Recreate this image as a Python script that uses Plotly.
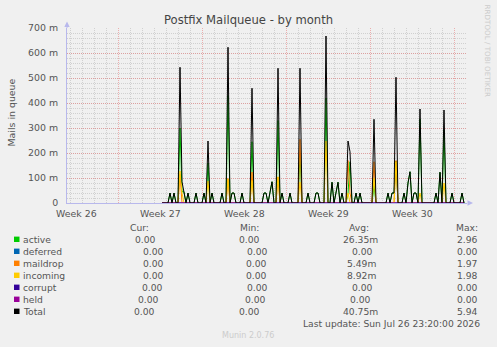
import plotly.graph_objects as go
import pandas as pd
import numpy as np

# ---------------- data ----------------
START = pd.Timestamp("2026-06-23 18:00")   # left edge of the time axis
SPAN_H = 800                               # hours shown
DATA_FROM_H = 190                          # first known sample (hours from START)
DATA_TO_H = 794                            # last sample
STEP_H = 4                                 # consolidation step (hours)

# non-zero samples (hours from START) and their values in milli-mails
spike_hours = [206, 214, 226, 230, 234, 242, 258, 274, 282, 290,
               310, 322, 330, 334, 350, 370, 394, 398, 406, 410,
               422, 430, 446, 466, 482, 498, 502, 518, 530, 538,
               542, 550, 562, 566, 578, 586, 614, 642, 650, 654,
               658, 674, 682, 686, 694, 698, 706, 738, 746, 754,
               770, 790]
active_m = [40, 40, 300, 45, 45, 40, 40, 40, 160, 40,
            40, 430, 40, 40, 40, 245, 40, 40, 40, 85,
            330, 40, 40, 200, 40, 40, 40, 420, 83, 40,
            83, 40, 38, 165, 40, 40, 70, 40, 40, 40,
            168, 40, 80, 125, 40, 40, 336, 40, 123, 292,
            40, 40]
maildrop_m = [0, 0, 115, 0, 0, 0, 0, 0, 0, 0,
              0, 98, 0, 0, 0, 124, 0, 0, 0, 0,
              104, 0, 0, 255, 0, 0, 0, 0, 0, 0,
              0, 0, 170, 40, 0, 0, 165, 0, 0, 0,
              170, 0, 0, 0, 0, 0, 0, 0, 0, 0,
              0, 0]
incoming_m = [0, 0, 128, 40, 0, 0, 0, 0, 88, 0,
              0, 95, 0, 0, 0, 90, 0, 0, 0, 0,
              105, 0, 0, 84, 0, 0, 0, 248, 0, 0,
              0, 0, 40, 0, 0, 0, 100, 0, 0, 0,
              165, 0, 0, 0, 0, 0, 40, 0, 0, 80,
              0, 0]

series_names = ["active", "deferred", "maildrop", "incoming", "corrupt", "held"]
series_colors = ["#00CC00", "#0066B3", "#FF8000", "#FFCC00", "#330099", "#990099"]
total_color = "#000000"

y_tickvals = [0, 0.1, 0.2, 0.3, 0.4, 0.5, 0.6, 0.7]
y_ticktext = ["0", "100 m", "200 m", "300 m", "400 m", "500 m", "600 m", "700 m"]
week_labels = ["Week 26", "Week 27", "Week 28", "Week 29", "Week 30"]
week_label_hours = [18, 186, 354, 522, 690]

legend_cur = ["0.00", "0.00", "0.00", "0.00", "0.00", "0.00", "0.00"]
legend_min = ["0.00", "0.00", "0.00", "0.00", "0.00", "0.00", "0.00"]
legend_avg = ["26.35m", "0.00", "5.49m", "8.92m", "0.00", "0.00", "40.75m"]
legend_max = ["2.96", "0.00", "1.97", "1.98", "0.00", "0.00", "5.94"]

# ---------------- series ----------------
hours = np.arange(DATA_FROM_H, DATA_TO_H + 1, STEP_H)
x = START + pd.to_timedelta(hours, unit="h")
vals = {n: np.zeros(len(hours)) for n in series_names}
idx = [(h - DATA_FROM_H) // STEP_H for h in spike_hours]
for i, a, m, inc in zip(idx, active_m, maildrop_m, incoming_m):
    vals["active"][i] = a / 1000
    vals["maildrop"][i] = m / 1000
    vals["incoming"][i] = inc / 1000
total = sum(vals[n] for n in series_names)

fig = go.Figure()
for n, c in zip(series_names, series_colors):
    fig.add_trace(go.Scatter(x=x, y=vals[n], mode="lines", name=n,
                             line=dict(color=c, width=1), showlegend=False))
fig.add_trace(go.Scatter(x=x, y=total, mode="lines", name="Total",
                         line=dict(color=total_color, width=1), showlegend=False))

# ---------------- layout helpers ----------------
W, H = 497, 347
PL, PR, PT, PB = 67, 467, 28, 203
def px(v):
    return (v - PL) / (PR - PL)
def py(v):
    return (PB - v) / (PB - PT)

FONT = "DejaVu Sans"
TXT = "#555555"
AXIS_C = "#B8B8EC"
MAJ = "rgba(230,120,120,0.55)"
MIN = "rgba(150,150,150,0.35)"
DASH = "1px,1px"

annotations = []
def text(s, x0, y0, xa="center", size=9.2, color=TXT, angle=0):
    annotations.append(dict(text=s, x=px(x0), y=py(y0), xref="paper", yref="paper",
                            xanchor=xa, yanchor="middle", showarrow=False,
                            textangle=angle, font=dict(family=FONT, size=size, color=color)))

text("Postfix Mailqueue - by month", 248, 20.5, size=11.6, color="#444444")
text("Mails in queue", 10.5, 113, size=9.4, angle=-90)
text("RRDTOOL / TOBI OETIKER", 487.5, 51, size=7.2, color="#CCCCCC", angle=90)

for lab, h in zip(week_labels, week_label_hours):
    annotations.append(dict(text=lab, x=START + pd.Timedelta(hours=h), y=0,
                            xref="x", yref="paper", xanchor="center", yanchor="top",
                            yshift=-3, showarrow=False,
                            font=dict(family=FONT, size=9.4, color=TXT)))

rows_y = [239.3, 251.3, 263.3, 275.3, 287.3, 299.3, 311.3]
cur_x = [145, 153, 153, 153.7, 152, 148.7, 144.7]
min_x = [249, 257.8, 256.3, 256.3, 257.8, 255.5, 249]
avg_x = [360, 362.5, 361.7, 361.7, 362.5, 360.8, 360]
text("Cur:", 139, 227.3)
text("Min:", 249, 227.3)
text("Avg:", 358.5, 227.3)
text("Max:", 466.7, 227.3)

shapes = []
labels = series_names + ["Total"]
colors = series_colors + [total_color]
for k, (lab, col) in enumerate(zip(labels, colors)):
    yy = rows_y[k]
    shapes.append(dict(type="rect", xref="paper", yref="paper",
                       x0=px(14), x1=px(19.5), y0=py(yy + 2.7), y1=py(yy - 2.7),
                       fillcolor=col, line=dict(width=0)))
    text(lab, 20.5, yy, xa="left")
    text(legend_cur[k], cur_x[k], yy)
    text(legend_min[k], min_x[k], yy)
    text(legend_avg[k], avg_x[k], yy)
    text(legend_max[k], 479.5, yy, xa="right")

text("Last update: Sun Jul 26 23:20:00 2026", 481.7, 323.3, xa="right")
text("Munin 2.0.76", 248.3, 335, size=8, color="#CCCCCC")

# axis arrows
shapes.append(dict(type="path", xref="paper", yref="paper",
                   path=f"M {px(64.3)} {py(27)} L {px(69.7)} {py(27)} L {px(67)} {py(21.5)} Z",
                   fillcolor=AXIS_C, line=dict(width=0), layer="above"))
shapes.append(dict(type="line", xref="paper", yref="paper",
                   x0=px(67), x1=px(67), y0=1, y1=py(25), line=dict(color=AXIS_C, width=1), layer="above"))
shapes.append(dict(type="path", xref="paper", yref="paper",
                   path=f"M {px(467.5)} {py(200.3)} L {px(467.5)} {py(205.7)} L {px(473)} {py(203)} Z",
                   fillcolor=AXIS_C, line=dict(width=0), layer="above"))

DAY_MS = 86400000
fig.update_layout(
    width=W, height=H,
    margin=dict(l=PL, r=W - PR, t=PT, b=H - PB, pad=0),
    paper_bgcolor="#F0F0F0", plot_bgcolor="#F0F0F0",
    showlegend=False,
    annotations=annotations, shapes=shapes,
    xaxis=dict(type="date",
               range=[START, START + pd.Timedelta(hours=SPAN_H)],
               tickmode="linear", tick0="2026-06-28", dtick=7 * DAY_MS,
               showticklabels=False, ticks="",
               showgrid=True, gridcolor=MAJ, griddash=DASH, gridwidth=1,
               minor=dict(tick0="2026-06-28", dtick=DAY_MS, showgrid=True,
                          gridcolor=MIN, griddash=DASH, gridwidth=1),
               showline=True, linecolor=AXIS_C, linewidth=1,
               zeroline=False, fixedrange=True),
    yaxis=dict(range=[0, 0.7], tickmode="array", tickvals=y_tickvals, ticktext=y_ticktext,
               tickfont=dict(family=FONT, size=9.4, color=TXT),
               ticks="", ticklabelstandoff=6,
               showgrid=True, gridcolor=MAJ, griddash=DASH, gridwidth=1,
               minor=dict(tick0=0, dtick=0.02, showgrid=True,
                          gridcolor=MIN, griddash=DASH, gridwidth=1),
               showline=True, linecolor=AXIS_C, linewidth=1,
               zeroline=False, fixedrange=True),
)

fig.write_html("out.html")
